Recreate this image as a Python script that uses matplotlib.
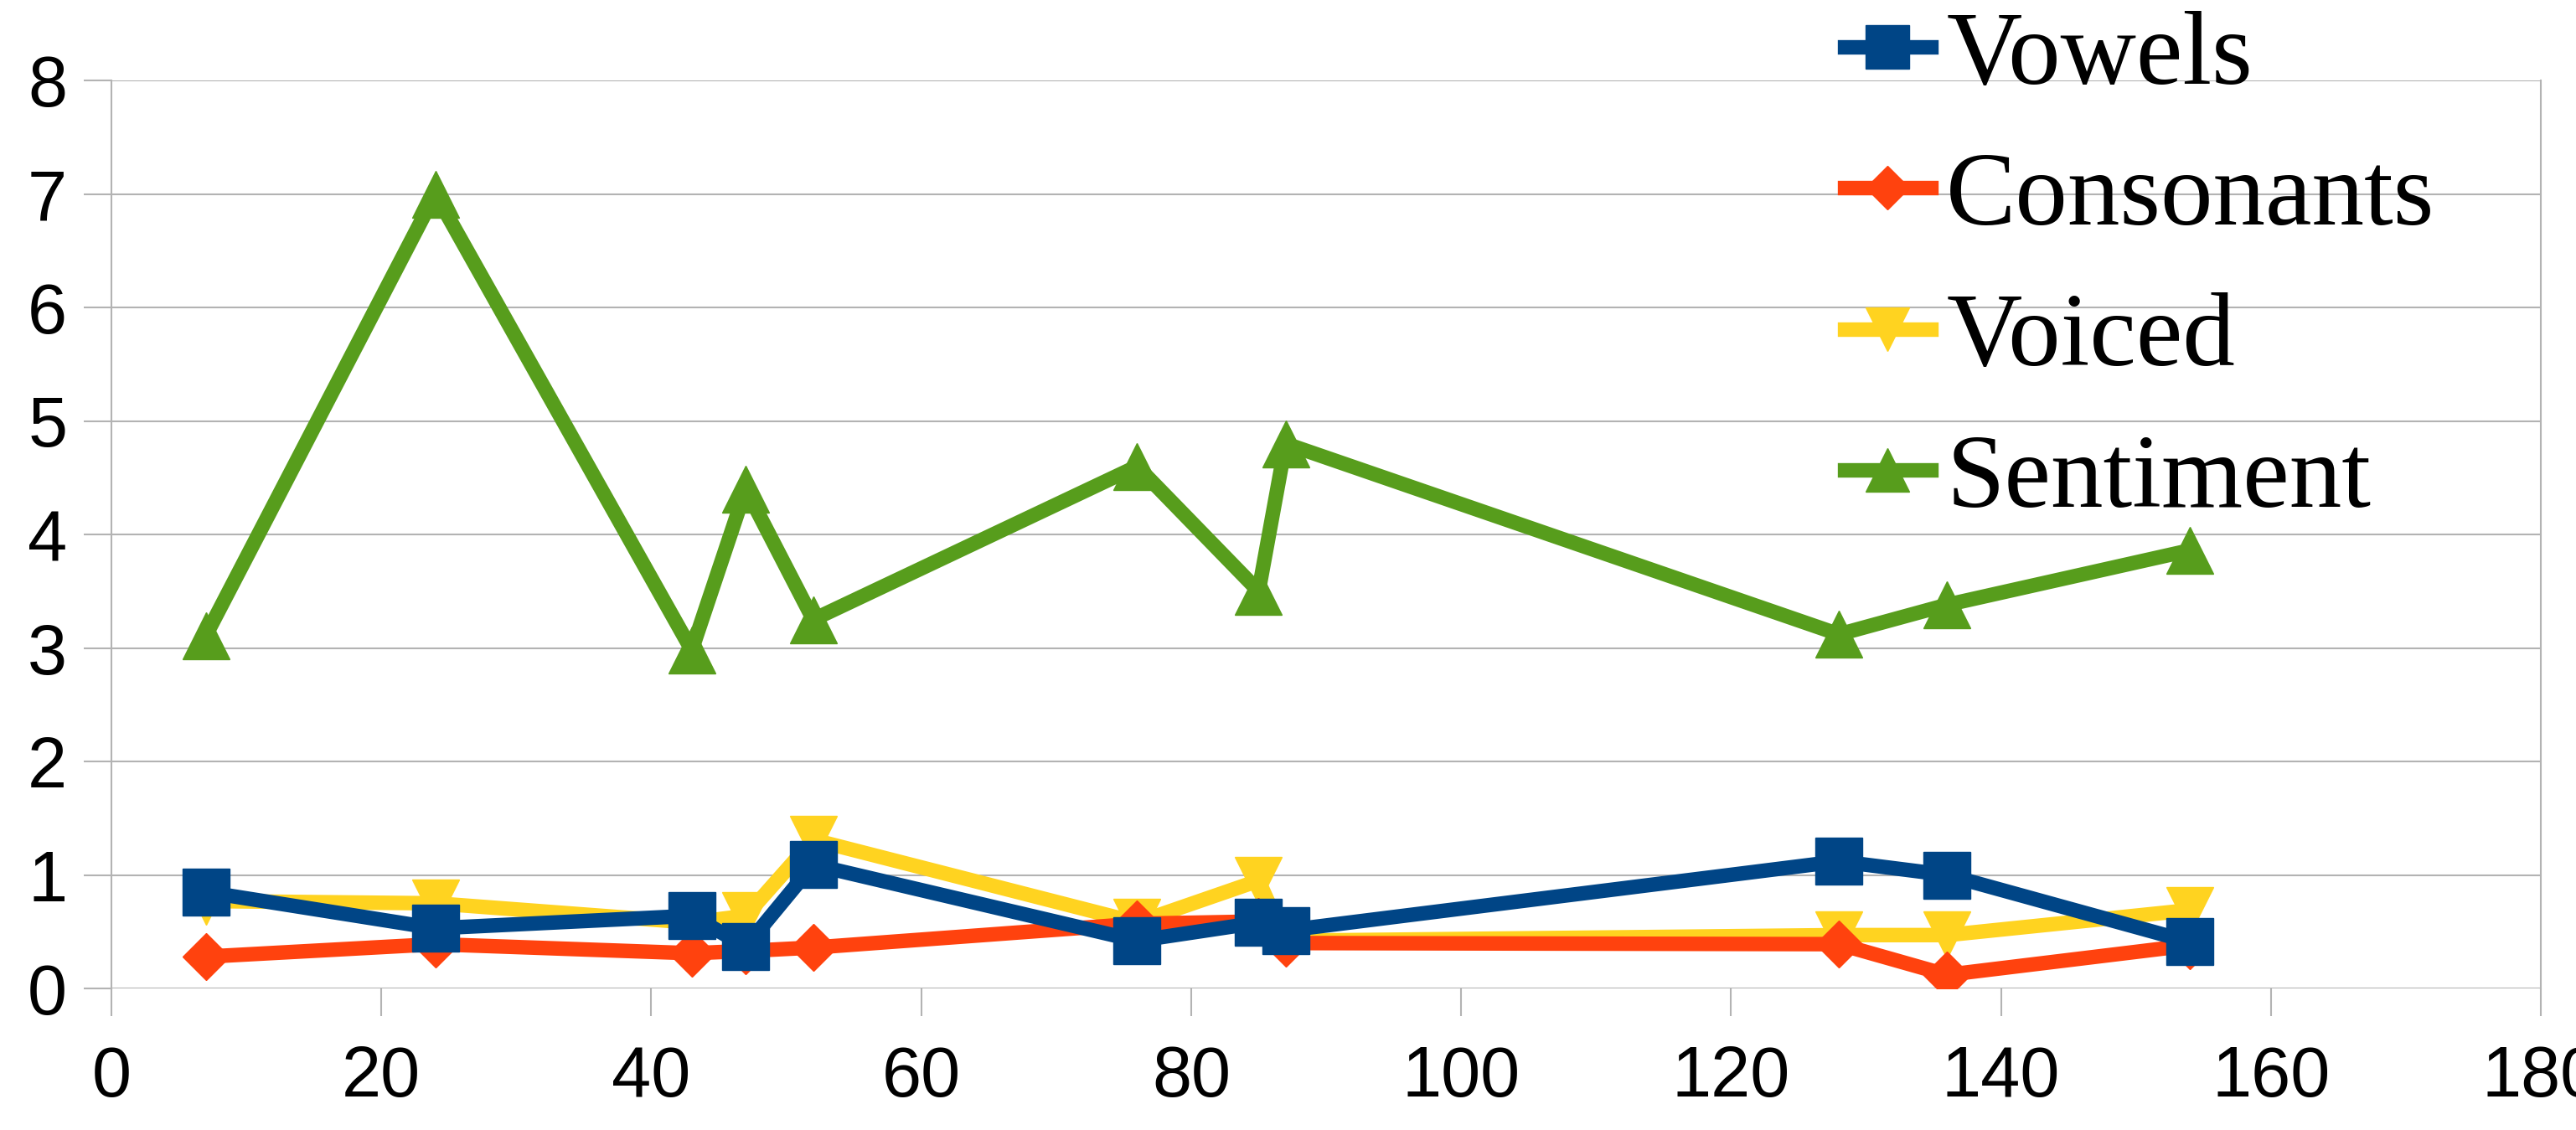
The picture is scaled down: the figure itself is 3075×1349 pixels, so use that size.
import matplotlib
matplotlib.use("Agg")
from matplotlib import pyplot as plt

# data
x = [7, 24, 43, 47, 52, 76, 85, 87, 128, 136, 154]
vowels = [0.85, 0.53, 0.64, 0.37, 1.09, 0.42, 0.58, 0.51, 1.12, 1.00, 0.41]
consonants = [0.28, 0.39, 0.31, 0.33, 0.36, 0.57, 0.59, 0.40, 0.39, 0.12, 0.38]
voiced = [0.77, 0.75, 0.58, 0.64, 1.31, 0.58, 0.95, 0.42, 0.47, 0.47, 0.69]
sentiment = [3.11, 7.0, 2.98, 4.40, 3.25, 4.60, 3.50, 4.80, 3.12, 3.38, 3.86]

x_ticks = list(range(0, 181, 20))
y_ticks = list(range(0, 9))

grid_col = '#b3b3b3'

fig = plt.figure(figsize=(30.75, 13.49), dpi=100)
ax = fig.add_axes([133 / 3075, 1 - 1180 / 1349, 2900 / 3075, 1084 / 1349])

lw = 12.5
ax.plot(x, vowels, color='#004586', marker='s', markersize=41, lw=lw,
        label='Vowels', zorder=5)
ax.plot(x, consonants, color='#ff420e', marker='D', markersize=29, lw=lw,
        label='Consonants', zorder=4)
ax.plot(x, voiced, color='#ffd320', marker='v', markersize=41, lw=lw,
        label='Voiced', zorder=3)
ax.plot(x, sentiment, color='#579d1c', marker='^', markersize=41, lw=lw,
        label='Sentiment', zorder=3)

ax.set_xlim(0, 180)
ax.set_ylim(0, 8)
ax.set_xticks(x_ticks)
ax.set_yticks(y_ticks)
ax.yaxis.grid(True, color=grid_col, lw=1.5)
ax.set_axisbelow(True)
for s in ax.spines.values():
    s.set_color(grid_col)
    s.set_linewidth(1.5)
ax.spines['top'].set_visible(False)
ax.spines['bottom'].set_visible(False)

ax.tick_params(axis='both', direction='out', length=24, width=1.5,
               color=grid_col, labelsize=61)
ax.tick_params(axis='y', pad=14)
ax.tick_params(axis='x', pad=24)
for lab in ax.get_xticklabels() + ax.get_yticklabels():
    lab.set_fontfamily('Liberation Sans')

fig.legend(loc='center left', bbox_to_anchor=(2202 / 3075, 1 - 322 / 1349),
           frameon=False, borderpad=0, borderaxespad=0,
           prop={'family': 'Liberation Serif', 'size': 90},
           handlelength=0.82, handletextpad=0.15, labelspacing=0.43,
           markerscale=0.9)

fig.savefig('out.png', dpi=100)
